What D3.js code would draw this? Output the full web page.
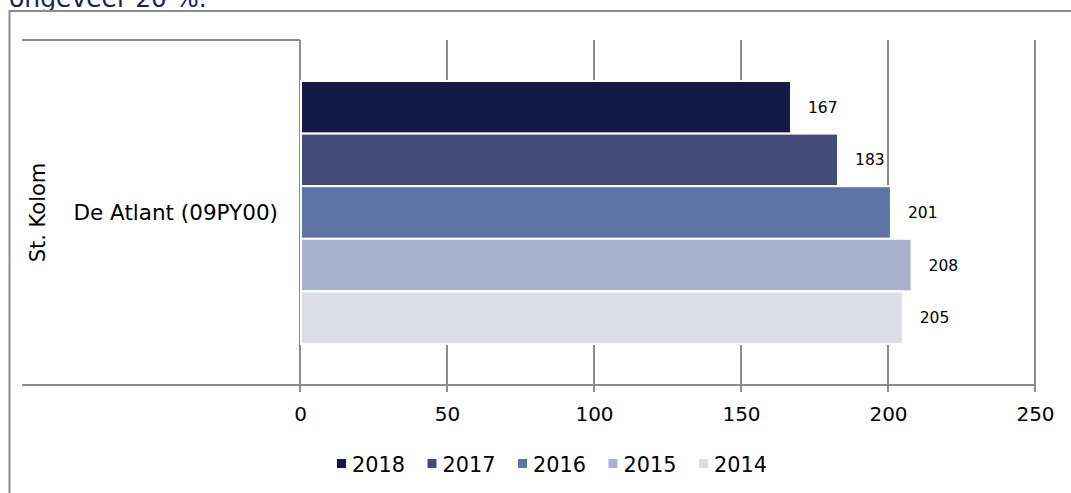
<!DOCTYPE html>
<html>
<head>
<meta charset="utf-8">
<script src="https://cdn.jsdelivr.net/npm/d3@7"></script>
<style>
  html, body { margin: 0; padding: 0; background: #ffffff; overflow: hidden; }
  svg { display: block; }
  text { font-family: "DejaVu Sans", Verdana, sans-serif; }
</style>
</head>
<body>
<svg id="chart" width="1071" height="493"></svg>
<script>
// ---- data ----
const categories = ["De Atlant (09PY00)"];
const groupLabel = "St. Kolom";
const series = ["2018", "2017", "2016", "2015", "2014"];
const values = [167, 183, 201, 208, 205];
const colors = ["#131a45", "#434c79", "#5f74a6", "#a9b3cf", "#dcdbe8"];
const xTicks = [0, 50, 100, 150, 200, 250];
const headerText = "ongeveer 20 %.";

// ---- layout ----
const svg = d3.select("#chart");
const plot = { left: 300, right: 1035, top: 40, bottom: 385 };
const lineColor = "#8c8c8c";

// header text partly hidden behind chart area
svg.append("text")
  .attr("x", 9).attr("y", 7)
  .attr("font-size", 25)
  .attr("fill", "#1b2352")
  .text(headerText);

// chart area
svg.append("rect")
  .attr("x", 9.5).attr("y", 11)
  .attr("width", 1200).attr("height", 600)
  .attr("fill", "#ffffff")
  .attr("stroke", lineColor).attr("stroke-width", 2);

const x = d3.scaleLinear().domain([0, 250]).range([plot.left, plot.right]);
const y0 = d3.scaleBand().domain(categories).range([plot.top, plot.bottom])
  .paddingOuter(0.156).paddingInner(0);
const y1 = d3.scaleBand().domain(series).range([0, y0.bandwidth()]).padding(0);

// gridlines (including value 0 as the vertical axis line)
svg.append("g").selectAll("line").data(xTicks).join("line")
  .attr("x1", d => x(d)).attr("x2", d => x(d))
  .attr("y1", plot.top).attr("y2", plot.bottom + 7)
  .attr("stroke", lineColor).attr("stroke-width", 2);

// category axis frame lines
svg.append("line").attr("x1", 22).attr("x2", plot.left)
  .attr("y1", plot.top).attr("y2", plot.top)
  .attr("stroke", lineColor).attr("stroke-width", 2);
svg.append("line").attr("x1", 22).attr("x2", plot.right)
  .attr("y1", plot.bottom).attr("y2", plot.bottom)
  .attr("stroke", lineColor).attr("stroke-width", 2);

// bars
const rows = series.map((s, i) => ({ cat: categories[0], s, v: values[i], c: colors[i] }));
const barG = svg.append("g");
barG.selectAll("rect").data(rows).join("rect")
  .attr("x", x(0) + 1)
  .attr("y", d => y0(d.cat) + y1(d.s))
  .attr("width", d => x(d.v) - x(0) - 1)
  .attr("height", y1.bandwidth())
  .attr("fill", d => d.c)
  .attr("stroke", "#ffffff").attr("stroke-width", 2);

// data labels
barG.selectAll("text").data(rows).join("text")
  .attr("x", d => x(d.v) + 17)
  .attr("y", d => y0(d.cat) + y1(d.s) + y1.bandwidth() / 2)
  .attr("dy", "0.36em")
  .attr("font-size", 15.5)
  .attr("fill", "#000")
  .text(d => d.v);

// x axis labels
const xAxis = d3.axisBottom(x).tickValues(xTicks).tickSize(0).tickPadding(22).tickFormat(d3.format("d"));
const ax = svg.append("g").attr("transform", `translate(0,${plot.bottom})`).call(xAxis);
ax.select(".domain").remove();
ax.selectAll("text").attr("font-size", 20).attr("fill", "#000")
  .attr("font-family", "DejaVu Sans, Verdana, sans-serif");

// category label
svg.append("text")
  .attr("x", 278).attr("y", y0(categories[0]) + y0.bandwidth() / 2)
  .attr("dy", "0.36em")
  .attr("text-anchor", "end")
  .attr("font-size", 21.5).attr("fill", "#000")
  .text(categories[0]);

// group label (rotated)
svg.append("text")
  .attr("transform", `translate(45,${(plot.top + plot.bottom) / 2}) rotate(-90)`)
  .attr("text-anchor", "middle")
  .attr("font-size", 21).attr("fill", "#000")
  .text(groupLabel);

// legend
const legend = svg.append("g");
const lx = d3.scaleLinear().domain([0, 1]).range([337, 427.5]);
const items = legend.selectAll("g").data(series).join("g")
  .attr("transform", (d, i) => `translate(${lx(i)},459)`);
items.append("rect").attr("width", 9).attr("height", 9)
  .attr("fill", (d, i) => colors[i]);
items.append("text").attr("x", 15).attr("y", 13)
  .attr("font-size", 20.8).attr("fill", "#000")
  .text(d => d);
</script>
</body>
</html>
